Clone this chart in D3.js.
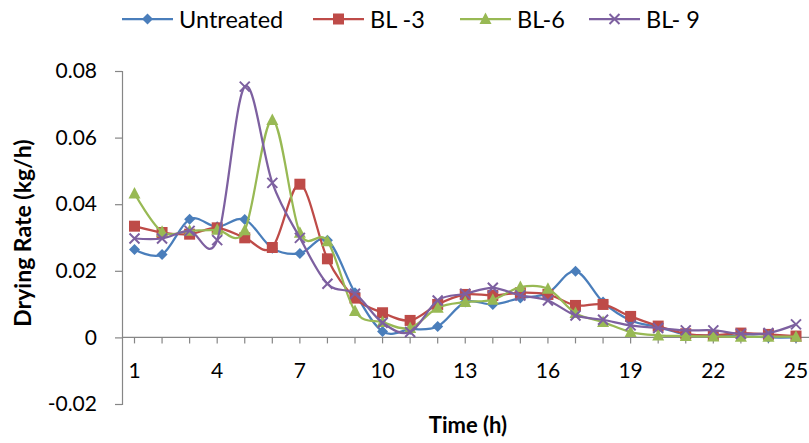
<!DOCTYPE html>
<html><head><meta charset="utf-8">
<script src="https://cdn.jsdelivr.net/npm/d3@7/dist/d3.min.js"></script>
<style>body{margin:0;background:#fff}svg{display:block}</style>
</head><body>
<script>
const categories = d3.range(1, 26);
const xTickLabels = [1, 4, 7, 10, 13, 16, 19, 22, 25];
const yTicks = [-0.02, 0, 0.02, 0.04, 0.06, 0.08];
const seriesNames = ["Untreated", "BL -3", "BL-6", "BL- 9"];
const untreated = [0.0264,0.0249,0.0355,0.0332,0.0354,0.0268,0.0252,0.0292,0.0134,0.0018,0.0024,0.0033,0.0106,0.0099,0.0118,0.0133,0.0199,0.0106,0.0051,0.0031,0.0009,0.0005,0.0004,0.0000,0.0000];
const bl3 = [0.0334,0.0315,0.0310,0.0329,0.0299,0.0270,0.0460,0.0236,0.0118,0.0074,0.0051,0.0099,0.0129,0.0126,0.0134,0.0129,0.0096,0.0099,0.0063,0.0034,0.0011,0.0006,0.0013,0.0009,0.0004];
const bl6 = [0.0432,0.0317,0.0320,0.0323,0.0322,0.0653,0.0314,0.0289,0.0079,0.0046,0.0028,0.0089,0.0106,0.0113,0.0151,0.0146,0.0073,0.0046,0.0016,0.0006,0.0004,0.0003,0.0002,0.0002,0.0002];
const bl9 = [0.0297,0.0297,0.0320,0.0292,0.0753,0.0464,0.0299,0.0161,0.0131,0.0044,0.0016,0.0111,0.0131,0.0149,0.0126,0.0111,0.0066,0.0053,0.0036,0.0028,0.0021,0.0021,0.0011,0.0013,0.0039];

const W = 809, H = 443;
const font = "Lato, 'Open Sans', sans-serif";
const colors = ["#4a7ebb", "#be4b48", "#98b954", "#7d60a0"];
const shapes = ["diamond", "square", "triangle", "x"];
const data = [untreated, bl3, bl6, bl9];

const svg = d3.select("body").append("svg").attr("width", W).attr("height", H);

const x = d3.scalePoint().domain(categories).range([134.5, 796]);
const y = d3.scaleLinear().domain([-0.02, 0.08]).range([404, 71]);
const axisLeftX = 122;

// Y axis
const yAxis = svg.append("g").attr("transform", `translate(${axisLeftX},0)`)
  .call(d3.axisLeft(y).tickValues(yTicks).tickSize(7).tickPadding(18)
    .tickFormat(d => d === 0 ? "0" : d3.format(".2f")(d).replace("\u2212", "-")));
yAxis.select(".domain").attr("stroke", "#868686").attr("stroke-width", 1.2);
yAxis.selectAll(".tick line").attr("stroke", "#868686").attr("stroke-width", 1.2);
yAxis.selectAll("text").attr("font-family", font).attr("font-size", 21).attr("fill", "#000");

// X axis at y=0
const xg = svg.append("g").attr("transform", `translate(0,${y(0)})`);
xg.append("line").attr("x1", axisLeftX).attr("x2", W).attr("stroke", "#868686").attr("stroke-width", 1.2);
xg.selectAll("line.tk").data(categories).join("line").attr("class", "tk")
  .attr("x1", d => x(d)).attr("x2", d => x(d)).attr("y1", 0).attr("y2", 6)
  .attr("stroke", "#868686").attr("stroke-width", 1.2);
xg.selectAll("text").data(xTickLabels).join("text")
  .attr("x", d => x(d)).attr("y", 41).attr("text-anchor", "middle")
  .attr("font-family", font).attr("font-size", 21).attr("fill", "#000").text(d => d);

// Axis titles
svg.append("text").attr("x", 468).attr("y", 433).attr("text-anchor", "middle")
  .attr("font-family", font).attr("font-weight", "bold").attr("font-size", 22).text("Time (h)");
svg.append("text").attr("transform", "translate(31,233) rotate(-90)").attr("text-anchor", "middle")
  .attr("font-family", font).attr("font-weight", "bold").attr("font-size", 23).text("Drying Rate (kg/h)");

function marker(g, shape, color) {
  if (shape === "diamond") g.append("path").attr("d", "M0,-5.5L5.5,0L0,5.5L-5.5,0Z").attr("fill", color);
  else if (shape === "square") g.append("rect").attr("x", -5.5).attr("y", -5.5).attr("width", 11).attr("height", 11).attr("fill", color);
  else if (shape === "triangle") g.append("path").attr("d", "M0,-6.5L6,5L-6,5Z").attr("fill", color);
  else g.append("path").attr("d", "M-5,-5L5,5M-5,5L5,-5").attr("stroke", color).attr("stroke-width", 2).attr("fill", "none");
}

const line = d3.line().x((d, i) => x(categories[i])).y(d => y(d)).curve(d3.curveCardinal.tension(0));
data.forEach((vals, s) => {
  const g = svg.append("g");
  g.append("path").attr("d", line(vals)).attr("fill", "none").attr("stroke", colors[s]).attr("stroke-width", 2.25);
  vals.forEach((v, i) => {
    const mg = g.append("g").attr("transform", `translate(${x(categories[i])},${y(v)})`);
    marker(mg, shapes[s], colors[s]);
  });
});

// Legend
const legX = [122, 313, 460, 589];
seriesNames.forEach((n, s) => {
  const g = svg.append("g").attr("transform", `translate(${legX[s]},19)`);
  g.append("line").attr("x1", 0).attr("x2", 51).attr("stroke", colors[s]).attr("stroke-width", 2.25);
  const mg = g.append("g").attr("transform", "translate(25.5,0)");
  marker(mg, shapes[s], colors[s]);
  g.append("text").attr("x", 57).attr("y", 8.5).attr("font-family", font).attr("font-size", 23.5).text(n);
});
</script>
</body></html>
